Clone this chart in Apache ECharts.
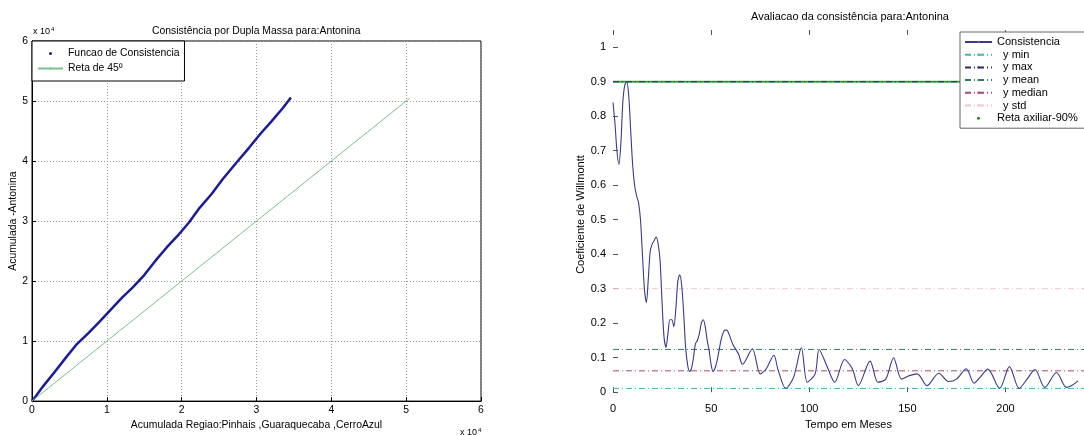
<!DOCTYPE html>
<html><head><meta charset="utf-8">
<script src="https://cdn.jsdelivr.net/npm/echarts@6/dist/echarts.min.js"></script>
<style>html,body{margin:0;padding:0;background:#fff}#c{width:1084px;height:435px}</style>
</head><body><div id="c"></div>
<script>
// ---- Left chart: double mass (units of 10^4) ----
const massX = [0, 0.05, 0.15, 0.3, 0.45, 0.6, 0.75, 0.9, 1.05, 1.2, 1.35, 1.5, 1.65, 1.8, 1.95, 2.1, 2.24, 2.4, 2.55, 2.75, 2.9, 3.05, 3.2, 3.35, 3.46];
const massY = [0, 0.08, 0.25, 0.48, 0.72, 0.95, 1.13, 1.32, 1.52, 1.72, 1.9, 2.1, 2.34, 2.56, 2.76, 2.98, 3.22, 3.45, 3.7, 4.0, 4.22, 4.45, 4.66, 4.88, 5.06];
const diagX = [0, 5.05];
const diagY = [0, 5.05];
const leftTicks = [0, 1, 2, 3, 4, 5, 6];

// ---- Right chart: Willmott coefficient per month ----
const months = [0,1,2,3,4,5,6,7,8,9,10,11,12,13,14,15,16,17,18,19,20,21,22,23,24,25,26,27,28,29,30,31,32,33,34,35,36,37,38,39,40,41,42,43,44,45,46,47,48,49,50,51,52,53,54,55,56,57,58,59,61,63,64,66,71,75,78,82,84,88,92,96,99,103,105,109,113,118,122,125,131,135,139,143,147,151,155,160,166,171,175,180,184,187,191,197,202,207,211,215,220,226,231,233,237];
const willmott = [0.84,0.78,0.70,0.66,0.72,0.84,0.89,0.90,0.86,0.76,0.66,0.60,0.57,0.55,0.50,0.40,0.30,0.26,0.33,0.41,0.43,0.44,0.45,0.43,0.38,0.26,0.16,0.13,0.17,0.21,0.21,0.19,0.24,0.32,0.34,0.31,0.23,0.13,0.08,0.06,0.07,0.10,0.14,0.15,0.17,0.20,0.21,0.19,0.15,0.12,0.08,0.06,0.07,0.09,0.12,0.15,0.17,0.18,0.18,0.17,0.14,0.12,0.11,0.081,0.126,0.053,0.067,0.107,0.067,0.011,0.043,0.129,0.029,0.053,0.124,0.076,0.029,0.095,0.067,0.019,0.090,0.029,0.038,0.100,0.038,0.048,0.053,0.019,0.055,0.031,0.038,0.068,0.026,0.043,0.067,0.011,0.074,0.011,0.038,0.066,0.014,0.057,0.014,0.017,0.033];
const statNames = ['  y min', '  y max', '  y mean', '  y median', '  y std'];
const statValues = [0.011, 0.90, 0.124, 0.062, 0.30];
const statColors = ['#40b4b8', '#2c2c6c', '#3a7a5c', '#b0486c', '#f4c0d4'];
const retaValue = 0.9;
const monthRange = [0, 240];
const rightYTicks = [0, 0.1, 0.2, 0.3, 0.4, 0.5, 0.6, 0.7, 0.8, 0.9, 1];
const rightXTicks = [0, 50, 100, 150, 200];

const FONT = '"Liberation Sans", Arial, sans-serif';
const LFS = 10.4; // left chart font size
const chart = echarts.init(document.getElementById('c'));

const pair = (xs, ys) => xs.map((x, i) => [x, ys[i]]);
const dashDot = [6, 3, 1, 3];

const series = [
  { name: 'Funcao de Consistencia', type: 'line', xAxisIndex: 0, yAxisIndex: 0, data: pair(massX, massY),
    symbol: 'none', lineStyle: { color: '#1c1c96', width: 2.5 }, itemStyle: { color: '#1c1c96' }, z: 3 },
  { name: 'Reta de 45º', type: 'line', xAxisIndex: 0, yAxisIndex: 0, data: pair(diagX, diagY),
    symbol: 'none', lineStyle: { color: '#7cc08c', width: 1 }, itemStyle: { color: '#7cc08c' } },
  { name: 'Reta axiliar-90%', type: 'line', xAxisIndex: 1, yAxisIndex: 1, data: monthRange.map(m => [m, retaValue]),
    symbol: 'none', lineStyle: { color: '#38a438', width: 1.8 }, itemStyle: { color: '#1e8c1e' }, z: 2 }
];
statNames.forEach((n, i) => {
  series.push({ name: n, type: 'line', xAxisIndex: 1, yAxisIndex: 1, data: monthRange.map(m => [m, statValues[i]]),
    symbol: 'none', lineStyle: { color: statColors[i], width: 1, type: dashDot }, itemStyle: { color: statColors[i] }, z: 3 });
});
series.push({ name: 'Consistencia', type: 'line', xAxisIndex: 1, yAxisIndex: 1, data: pair(months, willmott),
  symbol: 'none', smooth: 0.3, lineStyle: { color: '#3a3a8c', width: 1.1 }, itemStyle: { color: '#6a6a88' }, z: 4 });

const gridLine = { show: true, lineStyle: { color: '#9a9a9a', type: [1, 2], width: 1 } };
const tickText = { color: '#000', fontFamily: FONT, fontSize: 11 };
const leftTickText = { color: '#000', fontFamily: FONT, fontSize: LFS };

chart.setOption({
  animation: false,
  textStyle: { fontFamily: FONT },
  title: [
    { text: 'Consistência por Dupla Massa para:Antonina', left: 152, top: 26, padding: 0,
      textStyle: { fontSize: LFS, fontWeight: 'normal', color: '#000', fontFamily: FONT } },
    { text: 'Avaliacao da consistência para:Antonina', left: 751, top: 11, padding: 0,
      textStyle: { fontSize: 11, fontWeight: 'normal', color: '#000', fontFamily: FONT } }
  ],
  grid: [
    { left: 32, top: 41, width: 449, height: 365, show: true, borderColor: '#000', borderWidth: 1, backgroundColor: 'transparent' },
    { left: 613, top: 30, width: 477, height: 374 }
  ],
  legend: [
    { orient: 'vertical', left: 32, top: 41, padding: [6, 5, 6, 5], itemGap: 2, itemWidth: 25, itemHeight: 3,
      borderColor: '#000', borderWidth: 1, backgroundColor: '#fff',
      textStyle: { fontSize: LFS, color: '#000', fontFamily: FONT, lineHeight: 13 },
      data: [{ name: 'Funcao de Consistencia', icon: 'circle' }, { name: 'Reta de 45º' }] },
    { orient: 'vertical', left: 960, top: 32, padding: [4, 60, 4, 4], itemGap: 0.7, itemWidth: 27, itemHeight: 3,
      borderColor: '#666', borderWidth: 1, backgroundColor: '#fff',
      textStyle: { fontSize: 11, color: '#000', fontFamily: FONT, lineHeight: 12 },
      data: [{ name: 'Consistencia' }].concat(statNames.map(n => ({ name: n })), [{ name: 'Reta axiliar-90%', icon: 'circle' }]) }
  ],
  xAxis: [
    { type: 'value', gridIndex: 0, min: 0, max: 6, interval: 1,
      name: 'Acumulada Regiao:Pinhais ,Guaraquecaba ,CerroAzul', nameLocation: 'middle', nameGap: 13,
      nameTextStyle: { fontSize: LFS, color: '#000', fontFamily: FONT },
      axisLine: { show: true, lineStyle: { color: '#000' } }, axisTick: { show: true, inside: true, length: 4, lineStyle: { color: '#000' } },
      axisLabel: Object.assign({ margin: 4 }, leftTickText), splitLine: gridLine },
    { type: 'value', gridIndex: 1, min: monthRange[0], max: monthRange[1], interval: 50,
      name: 'Tempo em Meses', nameLocation: 'middle', nameGap: 18,
      nameTextStyle: { fontSize: 11, color: '#000', fontFamily: FONT },
      axisLine: { show: false }, axisTick: { show: true, inside: true, length: 5, lineStyle: { color: '#555' }, customValues: rightXTicks },
      axisLabel: Object.assign({ margin: 4, customValues: rightXTicks }, tickText), splitLine: { show: false } },
    { type: 'value', gridIndex: 1, position: 'top', min: monthRange[0], max: monthRange[1], interval: 50,
      axisLine: { show: false }, axisTick: { show: true, inside: true, length: 5, lineStyle: { color: '#555' }, customValues: rightXTicks },
      axisLabel: { show: false }, splitLine: { show: false } }
  ],
  yAxis: [
    { type: 'value', gridIndex: 0, min: 0, max: 6, interval: 1,
      name: 'Acumulada -Antonina', nameLocation: 'middle', nameGap: 14, nameRotate: 90,
      nameTextStyle: { fontSize: LFS, color: '#000', fontFamily: FONT },
      axisLine: { show: true, lineStyle: { color: '#000' } }, axisTick: { show: true, inside: true, length: 4, lineStyle: { color: '#000' } },
      axisLabel: Object.assign({ margin: 4 }, leftTickText), splitLine: gridLine },
    { type: 'value', gridIndex: 1, min: -0.02, max: 1.05,
      name: 'Coeficiente de Willmontt', nameLocation: 'middle', nameGap: 22, nameRotate: 90,
      nameTextStyle: { fontSize: 11, color: '#000', fontFamily: FONT },
      axisLine: { show: false }, axisTick: { show: true, inside: true, length: 5, lineStyle: { color: '#555' }, customValues: rightYTicks },
      axisLabel: Object.assign({ margin: 7, customValues: rightYTicks }, tickText), splitLine: { show: false } }
  ],
  graphic: [
    { type: 'text', left: 33, top: 26, style: { text: '{b|x 10}{s|4}', rich: { b: { fontSize: 9, fontFamily: FONT, fill: '#000' }, s: { fontSize: 6, fontFamily: FONT, fill: '#000', padding: [0, 0, 6, 1] } } } },
    { type: 'text', left: 460, top: 427, style: { text: '{b|x 10}{s|4}', rich: { b: { fontSize: 9, fontFamily: FONT, fill: '#000' }, s: { fontSize: 6, fontFamily: FONT, fill: '#000', padding: [0, 0, 6, 1] } } } }
  ],
  series: series
});
</script></body></html>
